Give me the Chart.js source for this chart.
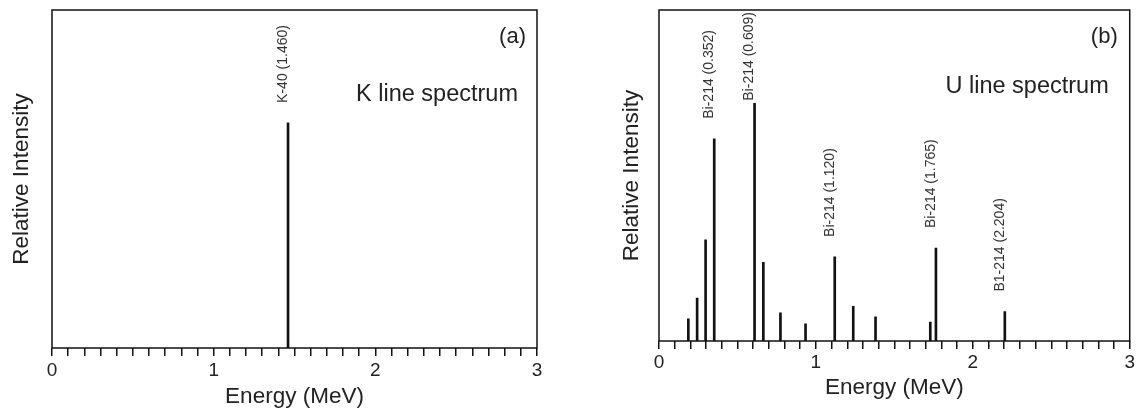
<!DOCTYPE html>
<html>
<head>
<meta charset="utf-8">
<script src="https://cdn.jsdelivr.net/npm/chart.js@4/dist/chart.umd.min.js"></script>
<style>
  body { margin: 0; background: #fff; }
  #wrap { position: relative; width: 1137px; height: 412px; }
  canvas { position: absolute; top: 0; }
  #chartK { left: 0; }
  #chartU { left: 570px; }
</style>
</head>
<body>
<div id="wrap">
  <canvas id="chartK" width="570" height="412"></canvas>
  <canvas id="chartU" width="567" height="412"></canvas>
</div>
<script>
// tick labels on the energy axis
const majorTicks = [0, 1, 2, 3];
const tickLabels = ['0', '1', '2', '3'];

// (a) K line spectrum
const kEnergy = [1.46];
const kIntensity = [0.666];
const kLabels = ['K-40 (1.460)'];

// (b) U line spectrum
const uEnergy = [0.187, 0.243, 0.297, 0.352, 0.609, 0.665, 0.774, 0.934, 1.120, 1.238, 1.380, 1.729, 1.765, 2.204];
const uIntensity = [0.067, 0.130, 0.306, 0.611, 0.718, 0.238, 0.085, 0.052, 0.254, 0.105, 0.073, 0.057, 0.281, 0.089];
const uLabels = ['', '', '', 'Bi-214 (0.352)', 'Bi-214 (0.609)', '', '', '', 'Bi-214 (1.120)', '', '', '', 'Bi-214 (1.765)', 'B1-214 (2.204)'];

const FONT = 'Arial, "Liberation Sans", sans-serif';
const INK = '#111';

// frame around the plot area
const boxPlugin = {
    id: 'box',
    afterDatasetsDraw(chart) {
        const a = chart.chartArea;
        const ctx = chart.ctx;
        ctx.save();
        ctx.strokeStyle = INK;
        ctx.lineWidth = 1.5;
        ctx.strokeRect(a.left, a.top, a.right - a.left, a.bottom - a.top);
        ctx.restore();
    }
};

// rotated peak labels + panel texts
const textPlugin = {
    id: 'panelText',
    afterDatasetsDraw(chart, args, opts) {
        const ctx = chart.ctx;
        const a = chart.chartArea;
        const meta = chart.getDatasetMeta(0);
        ctx.save();
        ctx.fillStyle = '#333';
        ctx.font = '14px ' + FONT;
        ctx.textAlign = 'left';
        ctx.textBaseline = 'middle';
        opts.labels.forEach((lab, i) => {
            if (!lab) return;
            const el = meta.data[i];
            const w = ctx.measureText(lab).width;
            let yStart = el.y - 20;
            if (yStart - w < a.top + 2) yStart = a.top + 2 + w;
            ctx.save();
            ctx.translate(el.x - 5, yStart);
            ctx.rotate(-Math.PI / 2);
            ctx.fillText(lab, 0, 0);
            ctx.restore();
        });
        ctx.fillStyle = '#222';
        ctx.textAlign = 'right';
        ctx.font = '22px ' + FONT;
        ctx.fillText(opts.tag, a.right - opts.tagDx, a.top + opts.tagDy);
        ctx.font = '23.5px ' + FONT;
        ctx.fillText(opts.title, a.right - opts.titleDx, a.top + opts.titleDy);
        ctx.restore();
    }
};

function makeSpectrum(id, energy, intensity, labels, cfg) {
    const ctx = document.getElementById(id).getContext('2d');
    return new Chart(ctx, {
        type: 'bar',
        data: {
            datasets: [{
                data: energy.map((e, i) => ({ x: e, y: intensity[i] })),
                backgroundColor: INK,
                barThickness: 2,
                grouped: false,
            }],
        },
        options: {
            responsive: false,
            animation: false,
            devicePixelRatio: 1,
            layout: { padding: { top: 10, left: cfg.padLeft, right: cfg.padRight, bottom: 0 } },
            scales: {
                x: {
                    type: 'linear',
                    min: 0,
                    max: 3,
                    offset: false,
                    grid: { display: true, offset: false, drawOnChartArea: false, drawTicks: true, tickLength: 8, color: INK, lineWidth: 1.5 },
                    border: { display: false },
                    ticks: {
                        stepSize: 0.1,
                        autoSkip: false,
                        maxRotation: 0,
                        padding: cfg.tickPad,
                        color: '#222',
                        font: { family: FONT, size: 19 },
                        callback: (v) => {
                            const k = majorTicks.findIndex(t => Math.abs(t - v) < 1e-6);
                            return k >= 0 ? tickLabels[k] : '';
                        },
                    },
                    title: {
                        display: true,
                        text: 'Energy (MeV)',
                        color: '#222',
                        font: { family: FONT, size: 22.5 },
                        padding: { top: 0, bottom: cfg.xTitlePad },
                    },
                    afterFit: (s) => { s.height = cfg.xHeight; },
                },
                y: {
                    min: 0,
                    max: 1,
                    grid: { display: false },
                    border: { display: false },
                    ticks: { display: false },
                    title: {
                        display: true,
                        text: 'Relative Intensity',
                        color: '#222',
                        font: { family: FONT, size: 22.5 },
                        padding: { top: 8, bottom: 0 },
                    },
                    afterFit: (s) => { s.width = cfg.yWidth; },
                },
            },
            plugins: {
                legend: { display: false },
                tooltip: { enabled: false },
                panelText: {
                    labels: labels,
                    tag: cfg.tag, tagDx: cfg.tagDx, tagDy: 27,
                    title: cfg.title, titleDx: cfg.titleDx, titleDy: cfg.titleDy,
                },
            },
        },
        plugins: [boxPlugin, textPlugin],
    });
}

makeSpectrum('chartK', kEnergy, kIntensity, kLabels, {
    padLeft: 0, padRight: 33, yWidth: 52, xHeight: 64, tickPad: 3, xTitlePad: 2,
    tag: '(a)', tagDx: 11, title: 'K line spectrum', titleDx: 19, titleDy: 85,
});

makeSpectrum('chartU', uEnergy, uIntensity, uLabels, {
    padLeft: 40, padRight: 5, yWidth: 49, xHeight: 71, tickPad: 2, xTitlePad: 11,
    tag: '(b)', tagDx: 12, title: 'U line spectrum', titleDx: 21, titleDy: 77,
});
</script>
</body>
</html>
